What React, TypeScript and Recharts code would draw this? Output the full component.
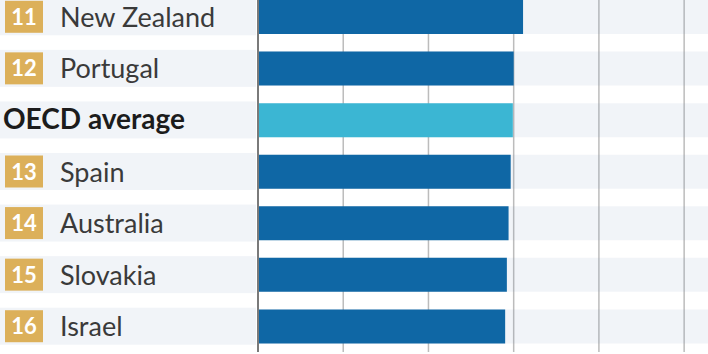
import React from "react";
import { BarChart, Bar, XAxis, YAxis, CartesianGrid, Cell } from "recharts";

const countries = ["New Zealand", "Portugal", "OECD average", "Spain", "Australia", "Slovakia", "Israel"];
const ranks = ["11", "12", "", "13", "14", "15", "16"];
const values = [3.11, 3.0, 2.99, 2.965, 2.94, 2.92, 2.9];
const axisTicks = [0, 1, 2, 3, 4, 5];

const data = countries.map((name, i) => ({ name, rank: ranks[i], value: values[i] }));

const FONT = "Lato, 'Open Sans', sans-serif";

const CountryTick = (props: any) => {
  const { y, payload } = props;
  const idx = countries.indexOf(payload.value);
  const rank = ranks[idx];
  const isAvg = rank === "";
  return (
    <g>
      <rect x={0} y={y - 18.5} width={256} height={37} fill="#f1f4f8" />
      {isAvg ? (
        <text x={3} y={y + 9.5} fontFamily={FONT} fontSize={28} fontWeight={700} fill="#1c1c1c">
          {payload.value}
        </text>
      ) : (
        <g>
          <rect x={5} y={y - 16} width={38} height={32} fill="#dcb05a" />
          <text x={24} y={y + 8} textAnchor="middle" fontFamily={FONT} fontSize={22} fontWeight={700} fill="#ffffff">
            {rank}
          </text>
          <text x={60} y={y + 10} fontFamily={FONT} fontSize={27} fill="#3a3a3a">
            {payload.value}
          </text>
        </g>
      )}
    </g>
  );
};

const EmptyTick = () => <g />;

export default function App() {
  return (
    <div style={{ position: "absolute", left: 0, top: 0, width: 708, height: 354, overflow: "hidden", background: "#fff" }}>
      <div style={{ position: "relative", top: -9 }}>
        <BarChart
          width={708}
          height={361}
          data={data}
          layout="vertical"
          margin={{ top: 0, right: 0, bottom: 0, left: 0 }}
          barSize={34}
        >
          <YAxis
            type="category"
            dataKey="name"
            width={258}
            tickLine={false}
            axisLine={{ stroke: "#7a7a7a", strokeWidth: 2 }}
            tick={<CountryTick />}
            interval={0}
          />
          <XAxis
            type="number"
            domain={[0, 5.28]}
            ticks={axisTicks}
            height={0}
            tick={<EmptyTick />}
            tickLine={false}
            axisLine={false}
            interval={0}
          />
          <CartesianGrid horizontal={false} stroke="#bcbcbc" strokeWidth={1.5} verticalValues={axisTicks} />
          <Bar
            dataKey="value"
            isAnimationActive={false}
            background={{ fill: "#7391b9", fillOpacity: 0.1 }}
          >
            {data.map((d, i) => (
              <Cell key={i} fill={d.rank === "" ? "#3bb6d3" : "#0f67a5"} />
            ))}
          </Bar>
        </BarChart>
      </div>
    </div>
  );
}
